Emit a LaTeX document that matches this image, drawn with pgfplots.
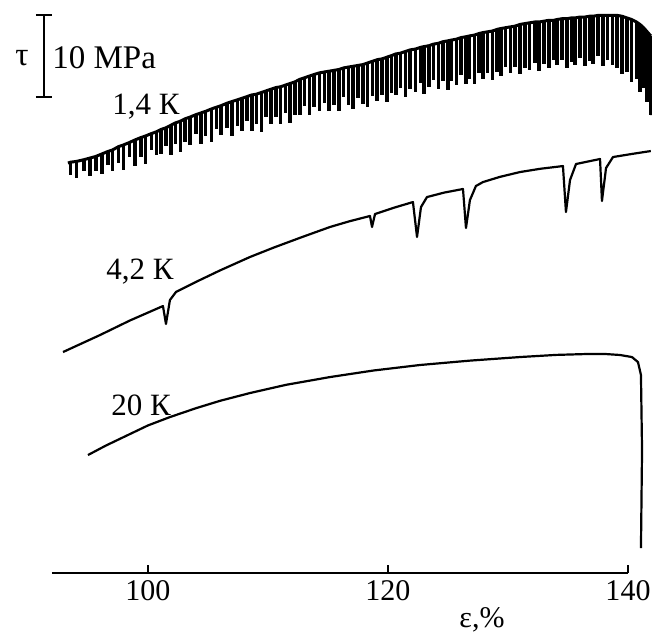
\documentclass[border=0pt]{standalone}
\usepackage{fontspec}
\setmainfont{Liberation Serif}
\usepackage{pgfplots}
\pgfplotsset{compat=1.18}
\usepackage{pgfplotstable}

% 1,4 K: serrated curve, one row per serration (x, top of the tooth, depth of the drop)
\pgfplotstableread{
x t d
93.33 50.0 0
93.55 50.1 1.6
94.05 50.2 2.0
94.65 50.4 1.4
95.15 50.6 2.2
95.65 50.8 1.8
96.15 51.1 2.4
96.65 51.4 1.6
97.05 51.6 2.6
97.55 52.0 2.0
97.95 52.2 3.0
98.45 52.5 1.8
98.9 52.8 3.2
99.4 53.1 2.4
99.8 53.3 3.4
100.3 53.6 2.0
100.7 53.8 2.8
101.1 54.1 3.0
101.5 54.3 2.2
101.9 54.6 3.6
102.3 54.9 2.6
102.7 55.1 3.8
103.1 55.4 2.8
103.5 55.6 3.4
104.0 55.9 2.4
104.4 56.1 3.8
104.8 56.3 3.0
105.3 56.6 4.0
105.7 56.8 2.6
106.1 57.0 3.6
106.6 57.3 3.0
107.0 57.5 4.2
107.45 57.7 3.2
107.85 57.9 4.0
108.25 58.1 3.0
108.65 58.3 4.4
109.05 58.4 3.6
109.45 58.6 4.8
109.85 58.8 3.2
110.25 59.0 4.2
110.65 59.2 3.6
111.05 59.3 4.6
111.45 59.5 3.4
111.85 59.7 4.8
112.25 59.9 4.0
112.65 60.2 4.4
113.05 60.4 3.4
113.45 60.6 4.8
113.85 60.8 4.0
114.3 61.0 4.6
114.7 61.1 3.8
115.1 61.2 4.8
115.5 61.3 4.2
115.9 61.4 5.0
116.3 61.6 3.6
116.7 61.7 4.6
117.1 61.8 5.2
117.5 61.9 4.0
117.9 62.0 4.8
118.3 62.2 5.4
118.7 62.4 4.2
119.1 62.6 5.0
119.5 62.7 4.4
119.9 62.9 5.4
120.3 63.1 4.6
120.65 63.3 5.0
121.05 63.4 4.2
121.45 63.6 5.6
121.85 63.8 4.8
122.3 63.9 5.2
122.7 64.1 4.4
123.0 64.2 5.8
123.4 64.3 5.0
123.8 64.5 4.4
124.2 64.6 5.6
124.6 64.8 4.8
125.0 64.9 6.0
125.3 65.0 5.0
125.7 65.1 5.6
126.1 65.3 4.6
126.5 65.4 5.8
126.8 65.5 5.2
127.2 65.6 6.0
127.6 65.8 4.8
127.9 65.9 5.6
128.3 66.0 5.0
128.7 66.1 6.0
129.1 66.3 5.2
129.4 66.4 5.8
129.8 66.5 4.8
130.2 66.6 5.6
130.6 66.7 5.0
131.0 66.9 6.0
131.4 67.0 5.4
131.8 67.1 5.8
132.25 67.2 5.0
132.6 67.2 6.0
133.0 67.3 5.2
133.4 67.4 5.8
133.8 67.4 4.8
134.1 67.5 5.6
134.5 67.6 5.0
134.9 67.6 6.0
135.3 67.7 5.4
135.6 67.7 5.8
136.0 67.8 5.0
136.4 67.8 6.0
136.8 67.9 5.4
137.1 67.9 5.8
137.5 68.0 5.0
137.9 68.0 6.2
138.3 68.0 5.4
138.7 68.0 6.0
139.1 68.0 6.4
139.5 67.9 7.0
139.9 67.7 6.6
140.3 67.5 7.6
140.7 67.2 7.0
141.0 66.9 8.2
141.3 66.5 7.4
141.6 66.0 8.6
141.9 65.5 9.7
}\serrated

\begin{document}
\begin{tikzpicture}
\begin{axis}[
    scale only axis,
    width=288pt, height=278.8pt,
    xmin=92, xmax=140, ymin=0, ymax=68,
    axis x line*=bottom,
    axis y line=none,
    axis line style={line width=1pt},
    xtick={100,120,140},
    tick align=inside,
    major tick length=4pt,
    tick style={line width=1pt, black},
    /pgf/number format/assume math mode=true,
    ticklabel style={font=\fontsize{15}{18}\selectfont},
    clip=false,
]
% 20 K
\addplot[black, line width=1.1pt, line join=round] coordinates {
    (95.00,14.39) (96.50,15.55) (98.50,16.95) (100.00,18.00) (101.83,19.02)
    (104.00,20.10) (106.00,21.00) (108.50,21.95) (111.50,22.95) (115.17,23.90)
    (118.80,24.70) (122.67,25.37) (126.80,25.90) (131.00,26.34) (134.00,26.60)
    (136.58,26.71) (138.20,26.70) (139.33,26.59) (140.33,26.34) (140.83,25.73)
    (141.08,24.15) (141.17,15.00) (141.08,3.05)
};
% 4,2 K
\addplot[black, line width=1.1pt, line join=round] coordinates {
    (92.92,26.95) (96.00,29.02) (98.50,30.80) (101.25,32.56) (101.50,30.37)
    (101.83,33.29) (102.33,34.27) (104.00,35.50) (106.00,36.90) (108.50,38.54)
    (110.50,39.70) (112.80,40.95) (115.17,42.20) (116.80,42.90) (118.50,43.54)
    (118.67,42.20) (118.92,43.78) (120.50,44.55) (122.08,45.24) (122.42,40.98)
    (122.75,44.63) (123.25,45.85) (124.70,46.40) (126.25,46.83) (126.50,42.07)
    (126.83,45.49) (127.33,47.20) (127.92,47.68) (129.30,48.30) (131.00,48.90)
    (132.70,49.30) (134.58,49.63) (134.83,44.02) (135.17,47.93) (135.67,49.88)
    (137.67,50.49) (137.83,45.37) (138.17,49.39) (138.75,50.73) (140.30,51.10)
    (141.90,51.46)
};
% 1,4 K: envelope through the tops, the drops as downward bars
\addplot[black, line width=1.5pt, line join=round,
    error bars/.cd, y dir=minus, y explicit, error mark=none,
    error bar style={line width=1.8pt}]
    table[x=x, y=t, y error=d] {\serrated};
\addplot[black, line width=1.4pt] coordinates {(141.9,65.5) (141.95,55.85)};

% scale bar
\draw[line width=1pt] (axis cs:91.33,58.05) -- (axis cs:91.33,68.05);
\draw[line width=1pt] (axis cs:90.66,58.05) -- (axis cs:92.0,58.05);
\draw[line width=1pt] (axis cs:90.66,68.05) -- (axis cs:92.0,68.05);
\node[font=\fontsize{16.5}{19}\selectfont] at (axis cs:89.5,62.8) {τ};
\node[font=\fontsize{16.5}{19}\selectfont, anchor=west, inner sep=0pt] at (axis cs:92.0,62.8) {10 MPa};

\node[font=\fontsize{15.5}{18}\selectfont] at (axis cs:99.83,56.9) {1,4 К};
\node[font=\fontsize{15.5}{18}\selectfont] at (axis cs:99.33,36.71) {4,2 К};
\node[font=\fontsize{15.5}{18}\selectfont] at (axis cs:99.42,20.49) {20 К};
\node[font=\fontsize{15}{18}\selectfont] at (axis cs:127.83,-5.73) {ε,\%};

\coordinate (bbA) at (axis cs:87.67,-7.32);
\coordinate (bbB) at (axis cs:142,69.88);
\end{axis}
\pgfresetboundingbox
\path (bbA) rectangle (bbB);
\end{tikzpicture}
\end{document}
